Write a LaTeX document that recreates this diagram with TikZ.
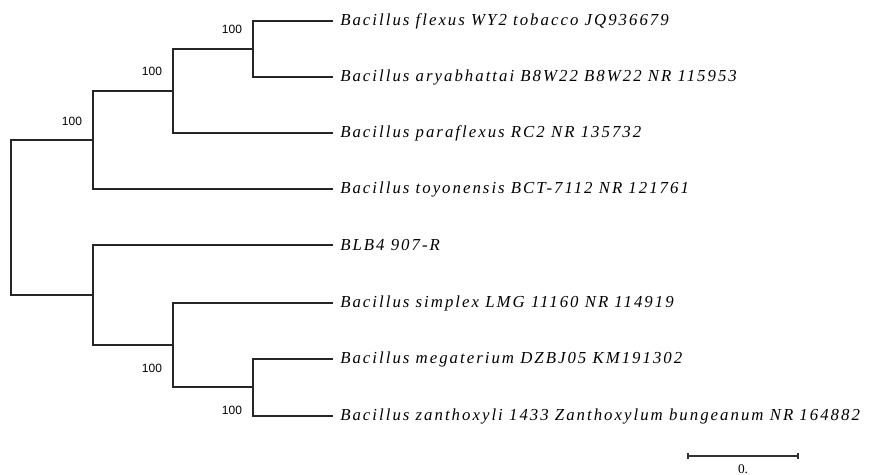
\documentclass[tikz,border=0pt]{standalone}
\usepackage{fontspec}
\setmainfont{Liberation Serif}
\newfontfamily\labfont{Liberation Serif}[LetterSpace=12]
\newfontfamily\bootfont{Liberation Sans}
\begin{document}
\begin{tikzpicture}[x=0.75pt,y=-0.75pt,
  branch/.style={line width=1.1pt,draw=black!85},
  taxon/.style={anchor=west,inner xsep=5.25pt,inner ysep=0pt,font=\labfont\itshape\fontsize{12.6}{15}\selectfont},
  boot/.style={font=\bootfont\fontsize{9}{11}\selectfont,inner sep=0pt}]
\useasboundingbox (0,0) rectangle (872,475);
% internal nodes
\coordinate (R) at (11,218);
\coordinate (A) at (93,140);
\coordinate (B) at (173,91);
\coordinate (C) at (253,49);
\coordinate (D) at (93,295);
\coordinate (E) at (173,345);
\coordinate (F) at (253,387);
% tips
\node[taxon] (t1) at (333,21) {Bacillus flexus WY2 tobacco JQ936679};
\node[taxon] (t2) at (333,77) {Bacillus aryabhattai B8W22 B8W22 NR 115953};
\node[taxon] (t3) at (333,133) {Bacillus paraflexus RC2 NR 135732};
\node[taxon] (t4) at (333,189) {Bacillus toyonensis BCT-7112 NR 121761};
\node[taxon] (t5) at (333,245) {BLB4 907-R};
\node[taxon] (t6) at (333,303) {Bacillus simplex LMG 11160 NR 114919};
\node[taxon] (t7) at (333,359) {Bacillus megaterium DZBJ05 KM191302};
\node[taxon] (t8) at (333,416) {Bacillus zanthoxyli 1433 Zanthoxylum bungeanum NR 164882};
% branches
\draw[branch] (R) |- (A);
\draw[branch] (R) |- (D);
\draw[branch] (A) |- (B);
\draw[branch] (A) |- (t4.west);
\draw[branch] (B) |- (C);
\draw[branch] (B) |- (t3.west);
\draw[branch] (C) |- (t1.west);
\draw[branch] (C) |- (t2.west);
\draw[branch] (D) |- (t5.west);
\draw[branch] (D) |- (E);
\draw[branch] (E) |- (t6.west);
\draw[branch] (E) |- (F);
\draw[branch] (F) |- (t7.west);
\draw[branch] (F) |- (t8.west);
% bootstrap values
\node[boot] (b1) at (232,29) {100};
\node[boot] (b2) at (152,71) {100};
\node[boot] (b3) at (72,121) {100};
\node[boot] (b4) at (152,368) {100};
\node[boot] (b5) at (232,410) {100};
% scale bar
\coordinate (s1) at (688,456);
\coordinate (s2) at (798,456);
\draw[line width=1pt,draw=black!80] (s1) -- (s2);
\draw[line width=1pt,draw=black!80] ([yshift=2.2pt]s1) -- ([yshift=-2.2pt]s1);
\draw[line width=1pt,draw=black!80] ([yshift=2.2pt]s2) -- ([yshift=-2.2pt]s2);
\node[font=\fontsize{10}{12}\selectfont,inner sep=0pt,anchor=north] (sl) at (743,464) {0.};
\end{tikzpicture}
\end{document}
